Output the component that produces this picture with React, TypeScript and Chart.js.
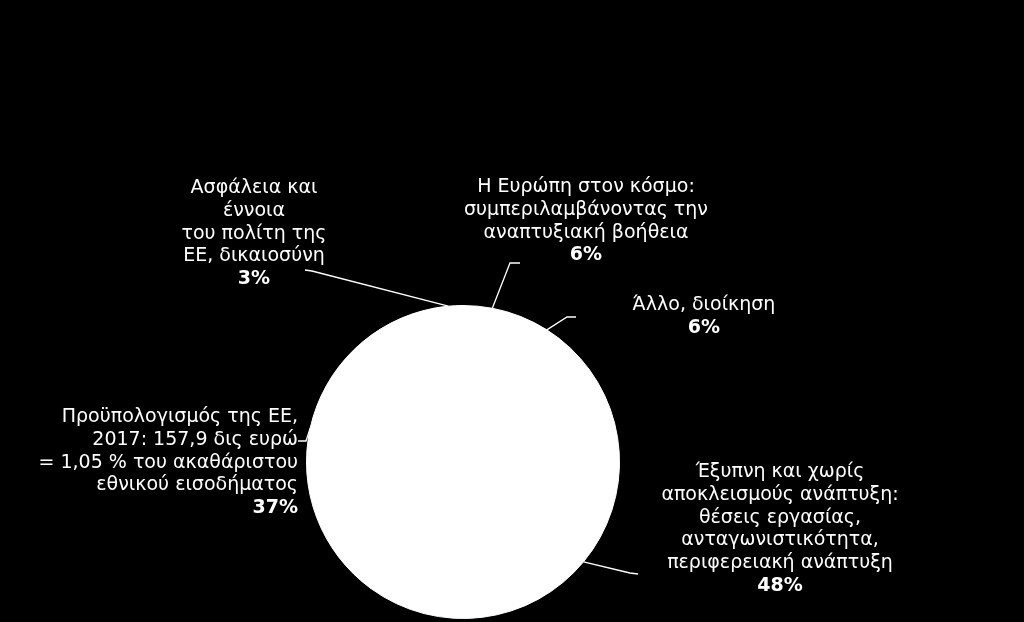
import React, { useRef, useEffect } from "react";
import { Chart, ChartConfiguration, Plugin, registerables } from "chart.js";

Chart.register(...registerables);

// slices in drawing order, clockwise from 12 o'clock
const categories: string[][] = [
  ["Η Ευρώπη στον κόσμο:", "συμπεριλαμβάνοντας την", "αναπτυξιακή βοήθεια"],
  ["Άλλο, διοίκηση"],
  [
    "Έξυπνη και χωρίς",
    "αποκλεισμούς ανάπτυξη:",
    "θέσεις εργασίας,",
    "ανταγωνιστικότητα,",
    "περιφερειακή ανάπτυξη",
  ],
  [
    "Προϋπολογισμός της ΕΕ,",
    "2017: 157,9 δις ευρώ",
    "= 1,05 % του ακαθάριστου",
    "εθνικού εισοδήματος",
  ],
  ["Ασφάλεια και", "έννοια", "του πολίτη της", "ΕΕ, δικαιοσύνη"],
];
const shares = [6, 6, 48, 37, 3];
const shareLabels = ["6%", "6%", "48%", "37%", "3%"];

// where each label block sits and where its leader line bends
type LabelPos = {
  x: number;
  y: number;
  align: CanvasTextAlign;
  elbow: [number, number];
  end: [number, number];
};
const labelPos: LabelPos[] = [
  { x: 586, y: 187, align: "center", elbow: [510, 263], end: [520, 263] },
  { x: 704, y: 305, align: "center", elbow: [567, 317], end: [576, 317] },
  { x: 780, y: 472, align: "center", elbow: [630, 573], end: [638, 574] },
  { x: 298, y: 417, align: "right", elbow: [306, 441], end: [298, 441] },
  { x: 254, y: 188, align: "center", elbow: [312, 271], end: [305, 270] },
];

const FONT = "'DejaVu Sans', Verdana, sans-serif";
const FONT_SIZE = 19;
const LINE_H = 22.8;

// white disc under the slices so the seams between them don't show
const underlayPlugin: Plugin<"pie"> = {
  id: "pieUnderlay",
  beforeDatasetsDraw(chart) {
    const arc = chart.getDatasetMeta(0).data[0];
    if (!arc) return;
    const p = arc.getProps(["x", "y", "outerRadius"], true) as any;
    const ctx = chart.ctx;
    ctx.save();
    ctx.fillStyle = "#ffffff";
    ctx.beginPath();
    ctx.arc(p.x, p.y, p.outerRadius - 0.5, 0, Math.PI * 2);
    ctx.fill();
    ctx.restore();
  },
};

const labelPlugin: Plugin<"pie"> = {
  id: "pieLabels",
  afterDraw(chart) {
    const ctx = chart.ctx;
    const arcs = chart.getDatasetMeta(0).data;
    ctx.save();
    ctx.strokeStyle = "#ffffff";
    ctx.fillStyle = "#ffffff";
    ctx.lineWidth = 1.3;
    ctx.textBaseline = "middle";
    arcs.forEach((arc, i) => {
      const p = arc.getProps(["x", "y", "startAngle", "endAngle", "outerRadius"], true) as any;
      const mid = (p.startAngle + p.endAngle) / 2;
      const ax = p.x + Math.cos(mid) * p.outerRadius;
      const ay = p.y + Math.sin(mid) * p.outerRadius;
      const pos = labelPos[i];
      ctx.beginPath();
      ctx.moveTo(ax, ay);
      ctx.lineTo(pos.elbow[0], pos.elbow[1]);
      ctx.lineTo(pos.end[0], pos.end[1]);
      ctx.stroke();

      ctx.textAlign = pos.align;
      ctx.font = `${FONT_SIZE}px ${FONT}`;
      const lines = categories[i];
      lines.forEach((t, k) => ctx.fillText(t, pos.x, pos.y + k * LINE_H));
      ctx.font = `bold ${FONT_SIZE}px ${FONT}`;
      ctx.fillText(shareLabels[i], pos.x, pos.y + lines.length * LINE_H);
    });
    ctx.restore();
  },
};

const bgPlugin: Plugin<"pie"> = {
  id: "blackBg",
  beforeDraw(chart) {
    const ctx = chart.ctx;
    ctx.save();
    ctx.fillStyle = "#000000";
    ctx.fillRect(0, 0, chart.width, chart.height);
    ctx.restore();
  },
};

const App: React.FC = () => {
  const canvasRef = useRef<HTMLCanvasElement | null>(null);
  const chartRef = useRef<Chart<"pie"> | null>(null);

  useEffect(() => {
    if (!canvasRef.current) return;
    const config: ChartConfiguration<"pie"> = {
      type: "pie",
      data: {
        labels: categories.map((c) => c.join(" ")),
        datasets: [
          {
            data: shares,
            backgroundColor: "#ffffff",
            borderColor: "#ffffff",
            borderWidth: 1,
          },
        ],
      },
      options: {
        animation: false,
        responsive: true,
        maintainAspectRatio: false,
        layout: { padding: { left: 306, right: 404, top: 305, bottom: 3 } },
        plugins: {
          legend: { display: false },
          tooltip: { enabled: false },
        },
      },
      plugins: [bgPlugin, underlayPlugin, labelPlugin],
    };
    chartRef.current = new Chart(canvasRef.current, config);
    return () => {
      chartRef.current?.destroy();
    };
  }, []);

  return (
    <div
      style={{
        position: "absolute",
        left: 0,
        top: 0,
        width: 1024,
        height: 622,
        background: "#000",
      }}
    >
      <canvas ref={canvasRef}></canvas>
    </div>
  );
};

export default App;
